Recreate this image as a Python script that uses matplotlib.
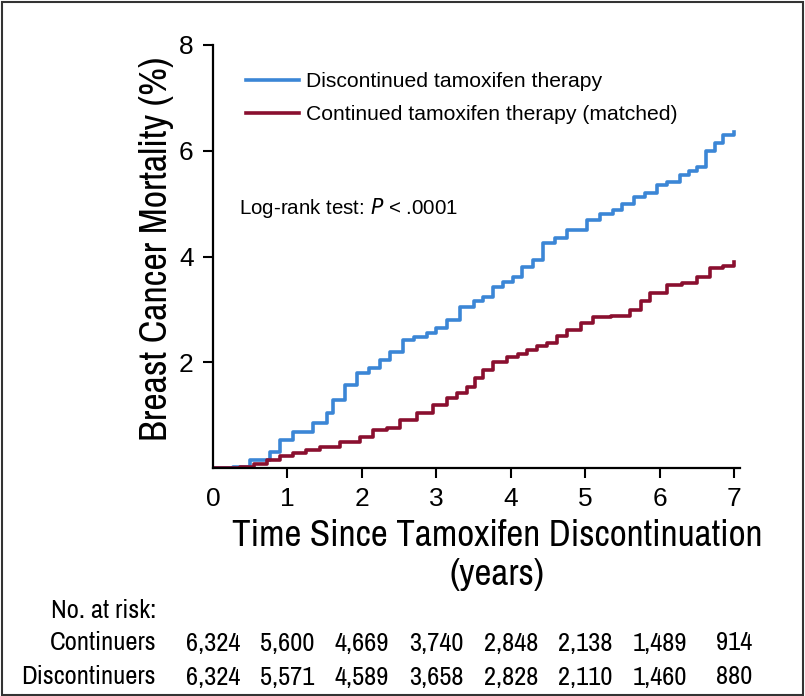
import matplotlib
matplotlib.use("Agg")
import matplotlib.pyplot as plt
from matplotlib import font_manager
from matplotlib.patches import Rectangle
from matplotlib.transforms import blended_transform_factory

# cumulative breast cancer mortality (%)
disc_t = [0, 0.27, 0.50, 0.77, 0.90, 1.08, 1.34, 1.53, 1.61, 1.77, 1.93, 2.10, 2.24, 2.38, 2.55,
          2.70, 2.88, 3.00, 3.14, 3.32, 3.50, 3.63, 3.76, 3.90, 4.03, 4.15, 4.30, 4.44, 4.60,
          4.76, 5.03, 5.20, 5.38, 5.50, 5.65, 5.80, 5.97, 6.10, 6.28, 6.40, 6.50, 6.62, 6.75,
          6.85, 7.00]
disc_y = [0, 0.02, 0.15, 0.30, 0.53, 0.68, 0.85, 1.04, 1.28, 1.57, 1.80, 1.90, 2.04, 2.19, 2.42,
          2.48, 2.55, 2.65, 2.80, 3.04, 3.15, 3.23, 3.42, 3.52, 3.61, 3.80, 3.93, 4.25, 4.35,
          4.50, 4.69, 4.80, 4.88, 5.00, 5.12, 5.20, 5.35, 5.40, 5.54, 5.62, 5.69, 6.00, 6.15,
          6.30, 6.35]

cont_t = [0, 0.36, 0.55, 0.72, 0.90, 1.08, 1.25, 1.44, 1.71, 1.98, 2.15, 2.34, 2.51, 2.74, 2.96,
          3.14, 3.28, 3.41, 3.52, 3.63, 3.76, 3.95, 4.10, 4.22, 4.35, 4.49, 4.62, 4.76, 4.95,
          5.11, 5.35, 5.60, 5.75, 5.87, 6.10, 6.30, 6.50, 6.68, 6.85, 7.00]
cont_y = [0, 0.02, 0.08, 0.15, 0.22, 0.28, 0.34, 0.40, 0.49, 0.59, 0.72, 0.76, 0.91, 1.04, 1.19,
          1.32, 1.42, 1.53, 1.70, 1.85, 2.00, 2.10, 2.15, 2.23, 2.30, 2.36, 2.50, 2.61, 2.75,
          2.85, 2.88, 2.99, 3.15, 3.31, 3.46, 3.50, 3.61, 3.78, 3.82, 3.89]

# number at risk table
risk_years = [0, 1, 2, 3, 4, 5, 6, 7]
risk_continuers = ["6,324", "5,600", "4,669", "3,740", "2,848", "2,138", "1,489", "914"]
risk_discontinuers = ["6,324", "5,571", "4,589", "3,658", "2,828", "2,110", "1,460", "880"]

blue = "#3B86D6"
red = "#8A0F2F"
W, H = 805, 696


def find_narrow():
    # look for any condensed / narrow sans installed, else Roboto
    fl = font_manager.fontManager.ttflist
    ok = lambda f: f.style == "normal" and str(f.weight) in ("400", "normal", "regular", "book")
    for f in fl:
        if ok(f) and ("Narrow" in f.name or "Condensed" in f.name):
            return font_manager.FontProperties(fname=f.fname)
    for f in fl:
        if ok(f) and str(f.stretch) in ("condensed", "semi-condensed", "extra-condensed"):
            return font_manager.FontProperties(fname=f.fname)
    return font_manager.FontProperties(family=["Roboto", "DejaVu Sans"])


narrow = find_narrow()
plt.rcParams["font.family"] = ["Liberation Sans", "DejaVu Sans"]


def fx(px):
    return px / W


def fy(py):
    return 1 - py / H


def fit_size(t, target_px, renderer, along="width"):
    bb = t.get_window_extent(renderer)
    cur = bb.width if along == "width" else bb.height
    t.set_fontsize(t.get_fontsize() * target_px / cur)


fig = plt.figure(figsize=(W / 100, H / 100), dpi=100)
ax = fig.add_axes([fx(213), fy(468), 527 / W, 423 / H])

ax.step(disc_t, disc_y, where="post", color=blue, lw=2.6,
        label="Discontinued tamoxifen therapy")
ax.step(cont_t, cont_y, where="post", color=red, lw=2.6,
        label="Continued tamoxifen therapy (matched)")

ax.set_xlim(0, 7.08)
ax.set_ylim(0, 8)
ax.set_xticks(risk_years)
ax.set_yticks([2, 4, 6, 8])
ax.tick_params(labelsize=19, length=7, width=1.5, pad=7)
ax.xaxis.get_major_ticks()[0].tick1line.set_visible(False)
for side in ["top", "right"]:
    ax.spines[side].set_visible(False)
for side in ["left", "bottom"]:
    ax.spines[side].set_linewidth(1.6)

leg = ax.legend(loc="upper left", bbox_to_anchor=(0.047, 0.955), frameon=False,
                fontsize=15.2, handlelength=2.5, handletextpad=0.35, labelspacing=0.65,
                borderaxespad=0)
for line in leg.get_lines():
    line.set_linewidth(2.6)

fig.text(fx(239), fy(208), "Log-rank test: $P$ < .0001", fontsize=14.8,
         va="center", ha="left")

ylab = fig.text(fx(156), fy(249), "Breast Cancer Mortality (%)", rotation=90,
                ha="center", va="center", fontproperties=narrow)
ylab.set_fontsize(25)
xlab = fig.text(fx(497), fy(555), "Time Since Tamoxifen Discontinuation\n(years)",
                ha="center", va="center", fontproperties=narrow, linespacing=1.2)
xlab.set_fontsize(25)

# risk table
tr = blended_transform_factory(ax.transData, fig.transFigure)
row_labels = []
for py, s in [(610, "No. at risk:"), (643, "Continuers"), (677, "Discontinuers")]:
    t = fig.text(fx(156), fy(py), s, ha="right", va="center", fontproperties=narrow)
    t.set_fontsize(15.5)
    row_labels.append(t)
cells = []
for yr, c, d in zip(risk_years, risk_continuers, risk_discontinuers):
    for py, s in [(643, c), (677, d)]:
        t = ax.text(yr, fy(py), s, transform=tr, ha="center", va="center",
                    fontproperties=narrow, clip_on=False)
        t.set_fontsize(15.5)
        cells.append(t)

# scale the condensed texts to the sizes measured on the reference
fig.canvas.draw()
r = fig.canvas.get_renderer()
fit_size(xlab, 531, r)
fit_size(ylab, 385, r, along="height")
fit_size(row_labels[2], 134, r)
for t in row_labels[:2] + cells:
    t.set_fontsize(row_labels[2].get_fontsize())

fig.patches.append(Rectangle((0.002, 0.002), 0.996, 0.995, transform=fig.transFigure,
                             fill=False, edgecolor="#333333", lw=1.5))

fig.savefig("out.png", dpi=100)
